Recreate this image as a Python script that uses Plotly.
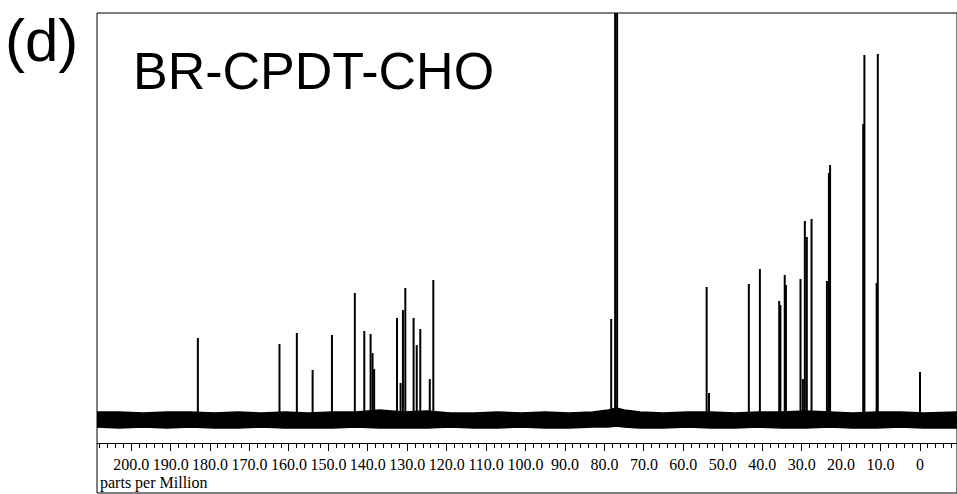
import plotly.graph_objects as go

# Peak list: chemical shift (ppm) and height above baseline (arb. units)
peak_ppm = [183.1, 162.4, 158.0, 154.0, 149.1, 143.3, 140.9, 139.3, 138.8, 138.4,
            132.6, 131.7, 131.1, 130.5, 128.4, 127.6, 126.7, 124.3, 123.4,
            78.3, 77.3, 76.8,
            54.1, 53.5, 43.4, 40.6, 35.7, 35.4, 34.3, 34.0, 30.3, 29.7, 29.2, 28.7, 27.5,
            23.6, 23.1, 22.8, 14.4, 14.1, 11.0, 10.7, 0.0]
peak_height = [82, 76, 87, 50, 85, 127, 89, 86, 67, 51,
               102, 37, 110, 132, 102, 75, 91, 41, 140,
               101, 900, 900,
               133, 27, 136, 151, 119, 115, 145, 135, 141, 41, 199, 183, 201,
               139, 247, 255, 296, 365, 137, 366, 48]

# Baseline noise band envelope (arb. units around baseline)
noise_ppm = [209, 203, 197, 191, 185, 179, 173, 167, 161, 155, 149, 143, 137, 131,
             125, 119, 113, 107, 101, 95, 89, 83, 79, 77, 75, 71, 65, 59, 53, 47,
             41, 35, 29, 23, 17, 11, 5, -1, -9.4]
noise_top = [8, 8, 7, 8, 8, 7, 8, 7, 8, 7, 8, 8, 10, 8,
             9, 7, 7, 8, 7, 8, 7, 8, 10, 12, 10, 8, 7, 8, 8, 7,
             8, 8, 9, 8, 7, 8, 8, 7, 8]
noise_bottom = [-7, -8, -7, -8, -7, -8, -8, -7, -8, -8, -8, -7, -8, -8,
                -8, -7, -8, -8, -7, -8, -8, -7, -7, -6, -7, -8, -8, -7, -8, -8,
                -7, -8, -8, -7, -8, -8, -7, -8, -8]

tick_ppm = [200, 190, 180, 170, 160, 150, 140, 130, 120, 110, 100,
            90, 80, 70, 60, 50, 40, 30, 20, 10, 0]
tick_labels = ["200.0", "190.0", "180.0", "170.0", "160.0", "150.0", "140.0",
               "130.0", "120.0", "110.0", "100.0", "90.0", "80.0", "70.0",
               "60.0", "50.0", "40.0", "30.0", "20.0", "10.0", "0"]

fig = go.Figure()
fig.add_trace(go.Scatter(x=noise_ppm, y=noise_bottom, mode="lines",
                         line=dict(color="black", width=1.5), hoverinfo="skip",
                         showlegend=False))
fig.add_trace(go.Scatter(x=noise_ppm, y=noise_top, mode="lines", fill="tonexty",
                         fillcolor="black", line=dict(color="black", width=1.5),
                         hoverinfo="skip", showlegend=False))

xs, ys = [], []
for p, h in zip(peak_ppm, peak_height):
    xs += [p, p, None]
    ys += [0, h, None]
fig.add_trace(go.Scatter(x=xs, y=ys, mode="lines",
                         line=dict(color="black", width=2), showlegend=False))

fig.update_layout(
    width=957, height=494,
    margin=dict(l=97, r=0, t=13, b=51),
    paper_bgcolor="white", plot_bgcolor="white",
    xaxis=dict(range=[208.67, -9.38], showgrid=False, zeroline=False,
               showline=True, linecolor="black", linewidth=1,
               ticks="outside", ticklen=7, tickcolor="black", tickwidth=1,
               tickmode="array", tickvals=tick_ppm, ticktext=tick_labels,
               tickfont=dict(family="Liberation Serif", size=16, color="black"),
               minor=dict(tickmode="linear", tick0=0, dtick=2, ticks="outside",
                          ticklen=4, tickcolor="black", tickwidth=1)),
    yaxis=dict(range=[-23, 407], visible=False),
    shapes=[dict(type="rect", xref="paper", yref="paper", x0=0, x1=1.0,
                 y0=-0.1163, y1=1, line=dict(color="black", width=1))],
    annotations=[
        dict(text="(d)", xref="paper", yref="paper", x=-0.065, y=0.935,
             xanchor="center", yanchor="middle", showarrow=False,
             font=dict(family="Liberation Sans", size=60, color="black")),
        dict(text="BR-CPDT-CHO", xref="paper", yref="paper", x=0.252, y=0.865,
             xanchor="center", yanchor="middle", showarrow=False,
             font=dict(family="Liberation Sans", size=52, color="black")),
        dict(text="parts per Million", xref="paper", yref="paper", x=0.001, y=-0.093,
             xanchor="left", yanchor="middle", showarrow=False,
             font=dict(family="Liberation Serif", size=16, color="black")),
    ],
)

fig.write_html("out.html")
